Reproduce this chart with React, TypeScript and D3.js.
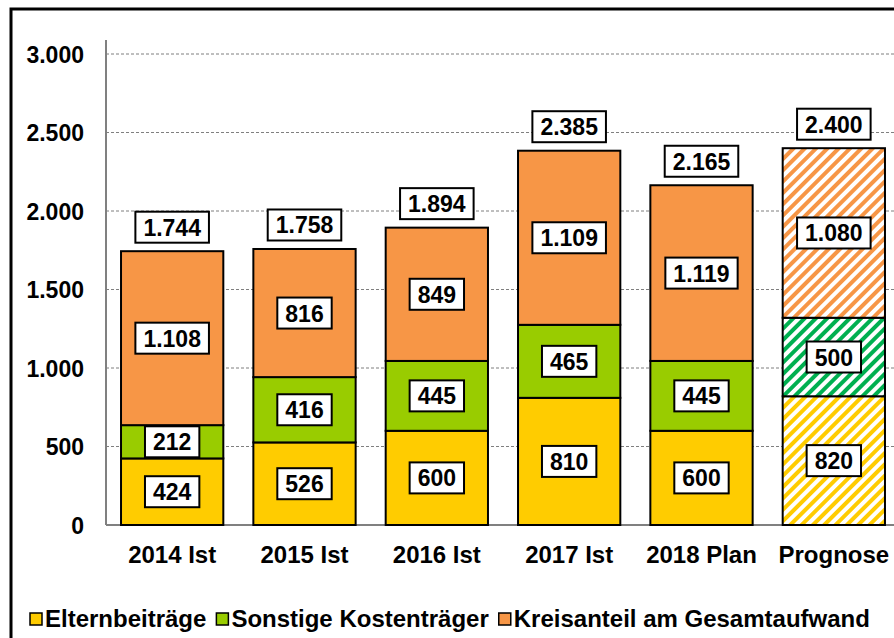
import React from 'react';
import * as d3 from 'd3';

const CATEGORIES = ['2014 Ist', '2015 Ist', '2016 Ist', '2017 Ist', '2018 Plan', 'Prognose'];
const ELTERN = [424, 526, 600, 810, 600, 820];
const SONSTIGE = [212, 416, 445, 465, 445, 500];
const KREIS = [1108, 816, 849, 1109, 1119, 1080];
const TOTALS = [1744, 1758, 1894, 2385, 2165, 2400];
const Y_TICKS = [0, 500, 1000, 1500, 2000, 2500, 3000];
const SERIES = ['Elternbeiträge', 'Sonstige Kostenträger', 'Kreisanteil am Gesamtaufwand'];
const COLORS = ['#FFCC00', '#99CC00', '#F79646'];
const HATCH_COLORS = ['#FFCC00', '#00B050', '#F79646'];
const FORECAST = 'Prognose';

const W = 894;
const H = 638;
const FONT = 'Arial, "Liberation Sans", sans-serif';
const FS_BOX = 23;
const FS_AXIS = 23;
const FS_CAT = 24;
const FS_LEG = 24;

const fmt = (v: number) => d3.format(',')(v).replace(/,/g, '.');

let ctx: CanvasRenderingContext2D | null = null;
function textW(s: string, size: number) {
  if (!ctx) ctx = document.createElement('canvas').getContext('2d');
  if (!ctx) return s.length * size * 0.55;
  ctx.font = `bold ${size}px "Liberation Sans", Arial, sans-serif`;
  return ctx.measureText(s).width;
}

function LabelBox({ x, y, text }: { x: number; y: number; text: string }) {
  const w = textW(text, FS_BOX) + 16;
  const h = 31;
  return (
    <g>
      <rect x={x - w / 2} y={y - h / 2} width={w} height={h} fill="#fff" stroke="#000" strokeWidth={2} />
      <text x={x} y={y + 8.5} textAnchor="middle" fontSize={FS_BOX} fontWeight="bold" fontFamily={FONT} fill="#000">
        {text}
      </text>
    </g>
  );
}

export default function App() {
  const margin = { left: 106, right: -6, top: 54, bottom: 113 };
  const x = d3.scaleBand<string>()
    .domain(CATEGORIES)
    .range([margin.left, W - margin.right])
    .paddingInner(0.227)
    .paddingOuter(0.1135);
  const y = d3.scaleLinear().domain([0, 3000]).range([H - margin.bottom, margin.top]);

  const stack = d3.stack<number>()
    .keys([0, 1, 2] as any)
    .value((i, k) => [ELTERN, SONSTIGE, KREIS][k as any as number][i]);
  const layers = stack(CATEGORIES.map((_, i) => i));

  // legend layout
  let lx = 30;
  const legendItems = SERIES.map((s, i) => {
    const item = { s, i, x: lx };
    lx += 15 + textW(s, FS_LEG) + 10;
    return item;
  });

  return (
    <svg width={W} height={H} style={{ position: 'absolute', left: 0, top: 0, background: '#fff' }}>
      <defs>
        {HATCH_COLORS.map((c, i) => (
          <pattern key={i} id={`hatch${i}`} patternUnits="userSpaceOnUse" width={8} height={8}
            patternTransform="rotate(45)">
            <rect width={8} height={8} fill="#fff" />
            <rect width={4} height={8} fill={c} />
          </pattern>
        ))}
      </defs>

      {/* outer frame */}
      <rect x={11} y={9} width={W + 10} height={H + 10} fill="none" stroke="#000" strokeWidth={3} />

      {/* grid */}
      {Y_TICKS.filter(t => t > 0).map(t => (
        <line key={t} x1={margin.left} x2={W} y1={y(t)} y2={y(t)}
          stroke="#7f7f7f" strokeWidth={1} strokeDasharray="3,2" />
      ))}

      {/* axes */}
      <line x1={margin.left} x2={margin.left} y1={40} y2={y(0)} stroke="#808080" strokeWidth={2} />
      <line x1={margin.left} x2={W} y1={y(0)} y2={y(0)} stroke="#808080" strokeWidth={2} />

      {Y_TICKS.map(t => (
        <text key={t} x={84} y={y(t) + 8.5} textAnchor="end" fontSize={FS_AXIS} fontWeight="bold" fontFamily={FONT}>
          {fmt(t)}
        </text>
      ))}

      {CATEGORIES.map(c => (
        <text key={c} x={(x(c) ?? 0) + x.bandwidth() / 2} y={y(0) + 38} textAnchor="middle"
          fontSize={FS_CAT} fontWeight="bold" fontFamily={FONT}>
          {c}
        </text>
      ))}

      {/* bars */}
      {layers.map((layer, k) => layer.map((d, i) => {
        const c = CATEGORIES[i];
        const fill = c === FORECAST ? `url(#hatch${k})` : COLORS[k];
        return (
          <rect key={`${k}-${i}`} x={x(c)} y={y(d[1])} width={x.bandwidth()} height={y(d[0]) - y(d[1])}
            fill={fill} stroke="#000" strokeWidth={2} />
        );
      }))}

      {/* segment labels */}
      {layers.map((layer, k) => layer.map((d, i) => {
        const c = CATEGORIES[i];
        const v = [ELTERN, SONSTIGE, KREIS][k][i];
        return (
          <LabelBox key={`l${k}-${i}`} x={(x(c) ?? 0) + x.bandwidth() / 2} y={(y(d[0]) + y(d[1])) / 2} text={fmt(v)} />
        );
      }))}

      {/* totals */}
      {CATEGORIES.map((c, i) => (
        <LabelBox key={`t${i}`} x={(x(c) ?? 0) + x.bandwidth() / 2} y={y(d3.sum([ELTERN[i], SONSTIGE[i], KREIS[i]])) - 24}
          text={fmt(TOTALS[i])} />
      ))}

      {/* legend */}
      {legendItems.map(it => (
        <g key={it.s}>
          <rect x={it.x} y={613} width={12} height={12} fill={COLORS[it.i]} stroke="#000" strokeWidth={1.5} />
          <text x={it.x + 15} y={627} fontSize={FS_LEG} fontWeight="bold" fontFamily={FONT}>{it.s}</text>
        </g>
      ))}
    </svg>
  );
}
